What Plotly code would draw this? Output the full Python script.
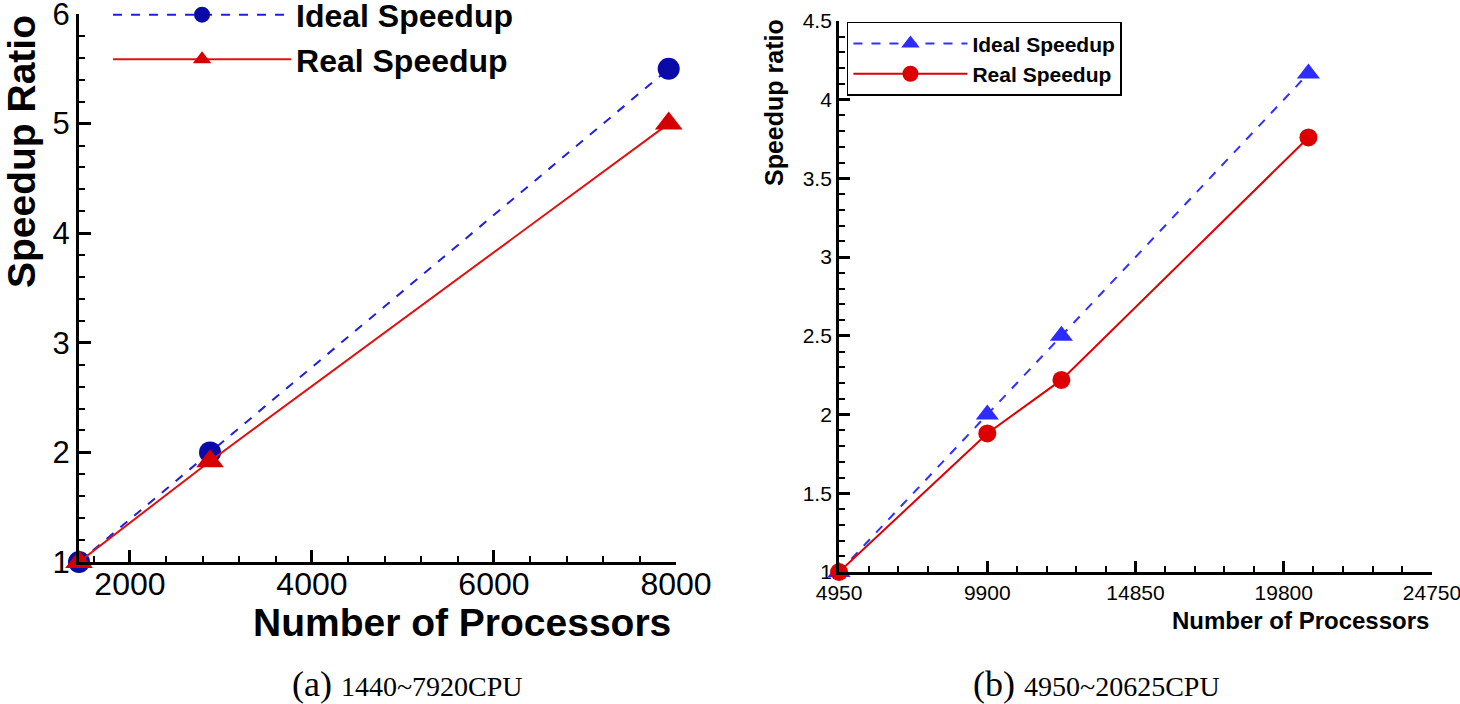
import plotly.graph_objects as go

# ---- data: panel (a) ----
procs_a = [1440, 2880, 7920]
ideal_a = [1.0, 2.0, 5.5]
real_a = [1.0, 1.92, 5.0]
xticks_a = [2000, 4000, 6000, 8000]

# ---- data: panel (b) ----
procs_b = [4950, 9900, 12375, 20625]
ideal_b = [1.0, 2.0, 2.5, 4.1667]
real_b = [1.0, 1.88, 2.22, 3.76]
xticks_b = [4950, 9900, 14850, 19800, 24750]

SANS = "Liberation Sans, Arial, sans-serif"
SERIF = "Liberation Serif, Times New Roman, serif"

fig = go.Figure()

fig.add_trace(go.Scatter(
    x=procs_a, y=ideal_a, name="Ideal Speedup", mode="lines+markers",
    line=dict(color="#2020d8", width=2, dash="dash"),
    marker=dict(symbol="circle", size=22, color="#0a0aa6"),
    xaxis="x", yaxis="y", legend="legend", cliponaxis=False))
fig.add_trace(go.Scatter(
    x=procs_a, y=real_a, name="Real Speedup", mode="lines+markers",
    line=dict(color="#e01010", width=2),
    marker=dict(symbol="triangle-up", size=24, color="#d40000"),
    xaxis="x", yaxis="y", legend="legend", cliponaxis=False))

fig.add_trace(go.Scatter(
    x=procs_b, y=ideal_b, name="Ideal Speedup", mode="lines+markers",
    line=dict(color="#3030ff", width=2, dash="dash"),
    marker=dict(symbol="triangle-up", size=20, color="#2c2cff"),
    xaxis="x2", yaxis="y2", legend="legend2", cliponaxis=False))
fig.add_trace(go.Scatter(
    x=procs_b, y=real_b, name="Real Speedup", mode="lines+markers",
    line=dict(color="#dd0000", width=2),
    marker=dict(symbol="circle", size=18, color="#dd0000"),
    xaxis="x2", yaxis="y2", legend="legend2", cliponaxis=False))

common = dict(showline=True, linecolor="black", showgrid=False, zeroline=False,
              ticks="inside", tickcolor="black", mirror=False, automargin=False,
              ticklabeloverflow="allow")

fig.update_layout(
    width=1460, height=704,
    margin=dict(l=0, r=0, t=0, b=0, autoexpand=False),
    paper_bgcolor="white", plot_bgcolor="white",
    xaxis=dict(domain=[0.0541, 0.4630], range=[1440, 8000], anchor="y",
               tickvals=xticks_a, ticktext=[str(v) for v in xticks_a],
               linewidth=3, ticklen=12, tickwidth=3, ticklabelstandoff=-8,
               minor=dict(dtick=400, tick0=0, ticks="inside", ticklen=6, tickwidth=2, tickcolor="black"),
               tickfont=dict(family=SANS, size=32, color="black"), **common),
    yaxis=dict(domain=[0.2017, 0.9801], range=[1, 6], anchor="x",
               dtick=1, linewidth=3, ticklen=12, tickwidth=3,
               minor=dict(dtick=0.2, ticks="inside", ticklen=6, tickwidth=2, tickcolor="black"),
               tickfont=dict(family=SANS, size=31, color="black"), **common),
    xaxis2=dict(domain=[0.5747, 0.9808], range=[4950, 24750], anchor="y2",
                tickvals=xticks_b, ticktext=[str(v) for v in xticks_b],
                linewidth=3, ticklen=11, tickwidth=2.5,
                minor=dict(dtick=990, tick0=4950, ticks="inside", ticklen=6, tickwidth=2, tickcolor="black"),
                tickfont=dict(family=SANS, size=21, color="black"), **common),
    yaxis2=dict(domain=[0.1875, 0.9702], range=[1, 4.5], anchor="x2",
                dtick=0.5, linewidth=3, ticklen=11, tickwidth=2.5,
                minor=dict(dtick=0.1, ticks="inside", ticklen=6, tickwidth=2, tickcolor="black"),
                tickfont=dict(family=SANS, size=21, color="black"), **common),
    legend=dict(x=0.074, y=1.018, xanchor="left", yanchor="top",
                font=dict(family=SANS, size=32, color="black", weight="bold"),
                bgcolor="rgba(0,0,0,0)", borderwidth=0, itemwidth=178,
                tracegroupgap=0),
    legend2=dict(x=0.5801, y=0.969, xanchor="left", yanchor="top",
                 font=dict(family=SANS, size=21, color="black", weight="bold"),
                 bgcolor="white", bordercolor="black", borderwidth=1.5,
                 itemwidth=114, tracegroupgap=0),
    showlegend=True,
)

ann = []
# axis titles
ann.append(dict(text="<b>Speedup Ratio</b>", x=21, y=152, textangle=-90, showarrow=False,
                xanchor="center", font=dict(family=SANS, size=39, color="black")))
ann.append(dict(text="<b>Number of Processors</b>", x=462, y=622, showarrow=False,
                xanchor="center", font=dict(family=SANS, size=39, color="black")))
ann.append(dict(text="<b>Speedup ratio</b>", x=774, y=103, textangle=-90, showarrow=False,
                xanchor="center", font=dict(family=SANS, size=25, color="black")))
ann.append(dict(text="<b>Number of Processors</b>", x=1431, y=620, showarrow=False,
                xanchor="right", font=dict(family=SANS, size=24, color="black")))
# captions
ann.append(dict(text="(a) <span style='font-size:28px'>1440~7920CPU</span>", x=407, y=684,
                showarrow=False, xanchor="center", font=dict(family=SERIF, size=36, color="black")))
ann.append(dict(text="(b) <span style='font-size:28px'>4950~20625CPU</span>", x=1096, y=684,
                showarrow=False, xanchor="center", font=dict(family=SERIF, size=36, color="black")))

# convert pixel positions to paper coordinates
for a in ann:
    a["xref"] = "paper"; a["yref"] = "paper"
    a["x"] = a["x"] / 1460
    a["y"] = 1 - a["y"] / 704
    a["yanchor"] = "middle"
fig.update_layout(annotations=ann)

fig.write_html("out.html", config={"displayModeBar": False},
               post_script="document.body.style.margin='0';document.body.style.overflow='hidden';")
